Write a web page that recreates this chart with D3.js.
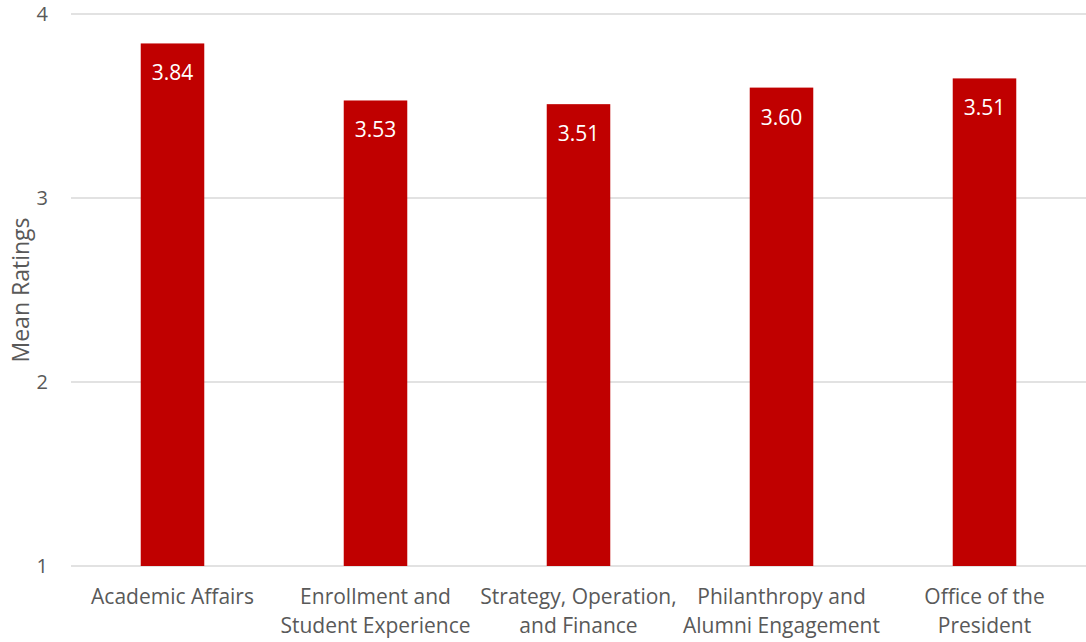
<!DOCTYPE html>
<html><head><meta charset="utf-8">
<script src="https://cdn.jsdelivr.net/npm/d3@7"></script>
<style>body{margin:0;background:#fff}svg{display:block}text{font-family:"Open Sans",sans-serif}</style>
</head><body><svg id="c" width="1086" height="642"></svg>
<script>
const categories = [["Academic Affairs"],["Enrollment and","Student Experience"],["Strategy, Operation,","and Finance"],["Philanthropy and","Alumni Engagement"],["Office of the","President"]];
const values = [3.84, 3.53, 3.51, 3.60, 3.65];
const dataLabels = ["3.84","3.53","3.51","3.60","3.51"];
const yTicks = [1, 2, 3, 4];
const yTitle = "Mean Ratings";

(function(){
const svg = d3.select("#c");
const mLeft = 71, mRight = 1086, mTop = 14, mBottom = 566;
const x = d3.scaleBand().domain(d3.range(values.length)).range([mLeft, mRight]).padding(0);
const y = d3.scaleLinear().domain([1, 4]).range([mBottom, mTop]);
const bw = x.bandwidth() * 0.313;

svg.append("g").selectAll("line").data(yTicks).join("line")
  .attr("x1", mLeft).attr("x2", mRight).attr("y1", d => y(d)).attr("y2", d => y(d))
  .attr("stroke", "#d9d9d9").attr("stroke-width", 1.5);

svg.append("g").selectAll("text").data(yTicks).join("text")
  .attr("x", 48).attr("y", d => y(d) + 7).attr("text-anchor", "end")
  .attr("font-size", 20).attr("fill", "#595959").text(d => d);

svg.append("text").attr("transform", "translate(29,290) rotate(-90)")
  .attr("text-anchor", "middle").attr("font-size", 23).attr("fill", "#595959").text(yTitle);

svg.append("g").selectAll("rect").data(values).join("rect")
  .attr("x", (d, i) => x(i) + x.bandwidth() / 2 - bw / 2).attr("width", bw)
  .attr("y", d => y(d)).attr("height", d => y(1) - y(d)).attr("fill", "#c00000");

svg.append("g").selectAll("text").data(values).join("text")
  .attr("x", (d, i) => x(i) + x.bandwidth() / 2).attr("y", d => y(d) + 37)
  .attr("text-anchor", "middle").attr("font-size", 21).attr("fill", "#fff")
  .text((d, i) => dataLabels[i]);

const cat = svg.append("g").selectAll("text").data(categories).join("text")
  .attr("text-anchor", "middle").attr("font-size", 21).attr("fill", "#595959");
cat.each(function(lines, i) {
  d3.select(this).selectAll("tspan").data(lines).join("tspan")
    .attr("x", x(i) + x.bandwidth() / 2).attr("y", (l, j) => 604 + j * 29).text(l => l);
});
})();
</script></body></html>
